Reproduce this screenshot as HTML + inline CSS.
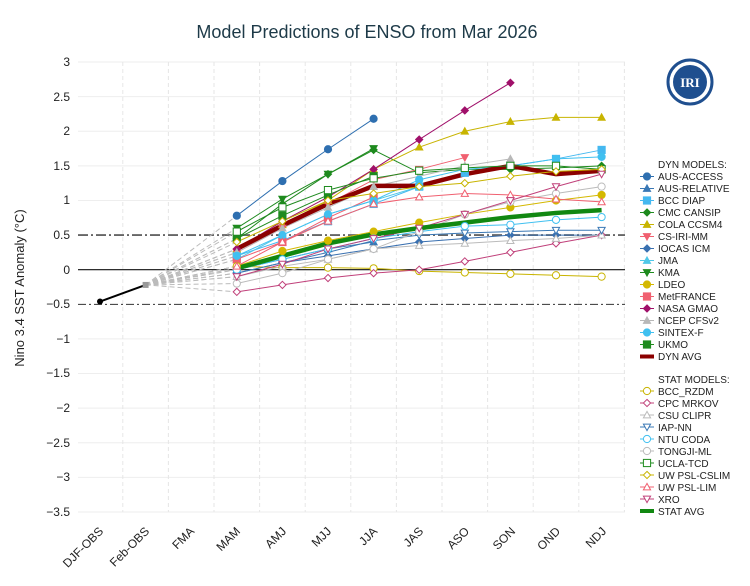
<!DOCTYPE html>
<html><head><meta charset="utf-8"><style>
body{margin:0;background:#fff;font-family:"Liberation Sans",sans-serif}
svg{display:block}
</style></head><body>
<svg id="s" width="750" height="586" xmlns="http://www.w3.org/2000/svg" font-family="Liberation Sans, sans-serif">
<text x="367" y="38" text-anchor="middle" font-size="18" fill="#1d3a48">Model Predictions of ENSO from Mar 2026</text>
<g id="grid"></g>
<g font-size="12" fill="#222" text-anchor="end">
<text x="70" y="66">3</text><text x="70" y="101">2.5</text><text x="70" y="135">2</text><text x="70" y="170">1.5</text><text x="70" y="204">1</text><text x="70" y="239">0.5</text><text x="70" y="274">0</text><text x="70" y="308">−0.5</text><text x="70" y="343">−1</text><text x="70" y="377">−1.5</text><text x="70" y="412">−2</text><text x="70" y="447">−2.5</text><text x="70" y="481">−3</text><text x="70" y="516">−3.5</text>
</g>
<text transform="translate(24,288) rotate(-90)" text-anchor="middle" font-size="13" fill="#222">Nino 3.4 SST Anomaly (°C)</text>
<g font-size="12" fill="#222" text-anchor="end">
<text transform="translate(104,532) rotate(-45)">DJF-OBS</text>
<text transform="translate(150,532) rotate(-45)">Feb-OBS</text>
<text transform="translate(195,532) rotate(-45)">FMA</text>
<text transform="translate(241,532) rotate(-45)">MAM</text>
<text transform="translate(287,532) rotate(-45)">AMJ</text>
<text transform="translate(332,532) rotate(-45)">MJJ</text>
<text transform="translate(378,532) rotate(-45)">JJA</text>
<text transform="translate(424,532) rotate(-45)">JAS</text>
<text transform="translate(470,532) rotate(-45)">ASO</text>
<text transform="translate(516,532) rotate(-45)">SON</text>
<text transform="translate(561,532) rotate(-45)">OND</text>
<text transform="translate(607,532) rotate(-45)">NDJ</text>
</g>
<g id="data"></g>
<circle cx="690" cy="82" r="22" fill="#fff" stroke="#1f4f8f" stroke-width="3"/>
<circle cx="690" cy="82" r="17" fill="#1f4f8f"/>
<text x="690" y="87" text-anchor="middle" font-size="13" font-weight="bold" fill="#fff" font-family="Liberation Serif, serif">IRI</text>
<g id="leg" font-size="10" fill="#222">
<text x="658" y="168">DYN MODELS:</text>
<text x="658" y="180">AUS-ACCESS</text><text x="658" y="192">AUS-RELATIVE</text><text x="658" y="204">BCC DIAP</text><text x="658" y="216">CMC CANSIP</text><text x="658" y="228">COLA CCSM4</text><text x="658" y="240">CS-IRI-MM</text><text x="658" y="252">IOCAS ICM</text><text x="658" y="264">JMA</text><text x="658" y="276">KMA</text><text x="658" y="288">LDEO</text><text x="658" y="300">MetFRANCE</text><text x="658" y="312">NASA GMAO</text><text x="658" y="324">NCEP CFSv2</text><text x="658" y="336">SINTEX-F</text><text x="658" y="348">UKMO</text><text x="658" y="360">DYN AVG</text>
<text x="658" y="383">STAT MODELS:</text>
<text x="658" y="395">BCC_RZDM</text><text x="658" y="407">CPC MRKOV</text><text x="658" y="419">CSU CLIPR</text><text x="658" y="431">IAP-NN</text><text x="658" y="443">NTU CODA</text><text x="658" y="455">TONGJI-ML</text><text x="658" y="467">UCLA-TCD</text><text x="658" y="479">UW PSL-CSLIM</text><text x="658" y="491">UW PSL-LIM</text><text x="658" y="503">XRO</text><text x="658" y="515">STAT AVG</text>
</g>
</svg>
<script>
const NS="http://www.w3.org/2000/svg";
function Y(v){return 269.7-69.23*v}
function X(i){return 100+45.6*i}
function el(p,t,a){const e=document.createElementNS(NS,t);for(const k in a)e.setAttribute(k,a[k]);p.appendChild(e);return e}
const g=document.getElementById('grid'),d=document.getElementById('data'),lg=document.getElementById('leg');
for(let v=-3.5;v<=3.01;v+=0.5){if(Math.abs(v)<0.01||Math.abs(Math.abs(v)-0.5)<0.01)continue;el(g,'line',{x1:78,x2:625,y1:Y(v),y2:Y(v),stroke:'#eee'})}
for(let i=0;i<12;i++){const x=X(i)+22.8;el(g,'line',{x1:x,x2:x,y1:62,y2:512,stroke:'#e6e6e6','stroke-dasharray':'4,3'})}
el(g,'line',{x1:78,x2:625,y1:Y(0),y2:Y(0),stroke:'#111','stroke-width':1.2});
el(g,'line',{x1:78,x2:625,y1:Y(0.5),y2:Y(0.5),stroke:'#666','stroke-width':1.8,'stroke-dasharray':'10,3,2,3'});
el(g,'line',{x1:78,x2:625,y1:Y(-0.5),y2:Y(-0.5),stroke:'#333','stroke-width':1,'stroke-dasharray':'8,3,2,3'});
const M=[
['#2e6fb0','c',1,[.78,1.28,1.74,2.18]],
['#3a78b5','t',1,[0,.15,.3,.4]],
['#44b8f0','s',1,[.2,.42,.7,.95,1.2,1.4,1.5,1.6,1.73]],
['#1e8a1e','d',1,[.45,.95,1.38,1.73,1.4,1.45,1.45,1.47,1.5]],
['#c8b400','t',1,[.3,.65,1.0,1.45,1.77,2.0,2.14,2.2,2.2]],
['#f06070','v',1,[.25,.6,.95,1.3,1.45,1.62]],
['#3a70b0','d',1,[-.05,.1,.2,.3,.4,.45,.5,.5,.5]],
['#50c8e8','t',1,[.15,.5,.8,1.0,1.2]],
['#1e8a1e','v',1,[.6,1.02,1.38,1.75]],
['#d4b800','c',1,[.05,.27,.42,.55,.68,.8,.9,1.0,1.08]],
['#f06070','s',1,[.15,.4,.75,1.05]],
['#a0106a','d',1,[.3,.7,1.05,1.45,1.88,2.3,2.7]],
['#b8b8b8','t',1,[.25,.6,.9,1.2,1.35,1.5,1.6]],
['#40c0f0','c',1,[.2,.5,.8,1.0,1.3,1.45,1.5,1.6,1.63]],
['#1e8a1e','s',1,[.45,.78,1.08,1.35]],
['#8b0000','L',5,[.3,.64,.95,1.21,1.21,1.38,1.5,1.38,1.43]],
['#c8b400','c',0,[.05,.03,.03,.02,-.02,-.04,-.06,-.08,-.1]],
['#c0407a','d',0,[-.32,-.22,-.12,-.05,0,.12,.25,.38,.5]],
['#bbbbbb','t',0,[-.1,.05,.15,.3,.35,.38,.42,.45,.5]],
['#3a78b5','v',0,[-.05,.1,.25,.42,.5,.53,.55,.57,.57]],
['#40c0f0','c',0,[0,.15,.3,.45,.55,.63,.65,.72,.76]],
['#bbbbbb','c',0,[-.2,-.05,.15,.3,.55,.8,.98,1.1,1.2]],
['#1e8a1e','s',0,[.55,.9,1.15,1.32,1.43,1.47,1.5,1.5,1.45]],
['#c8b400','d',0,[.4,.7,1.0,1.1,1.2,1.25,1.35,1.42,1.45]],
['#f06070','t',0,[.05,.4,.7,.95,1.05,1.1,1.08,1.02,.98]],
['#c0407a','v',0,[-.1,.08,.3,.45,.6,.8,1.0,1.2,1.38]],
['#118811','L',5,[.02,.2,.38,.51,.6,.68,.76,.82,.86]]];
function mk(p,t,x,y,c,f){const a={fill:f?c:'#fff',stroke:c,'stroke-width':1};const r=3.6;
if(t=='c')el(p,'circle',Object.assign({cx:x,cy:y,r:r},a));
else if(t=='s')el(p,'rect',Object.assign({x:x-r,y:y-r,width:2*r,height:2*r},a));
else if(t=='d')el(p,'polygon',Object.assign({points:`${x},${y-r} ${x+r},${y} ${x},${y+r} ${x-r},${y}`},a));
else if(t=='t')el(p,'polygon',Object.assign({points:`${x},${y-r} ${x+r},${y+r*.8} ${x-r},${y+r*.8}`},a));
else if(t=='v')el(p,'polygon',Object.assign({points:`${x},${y+r} ${x+r},${y-r*.8} ${x-r},${y-r*.8}`},a));}
M.forEach(m=>el(d,'line',{x1:X(1),y1:Y(-.22),x2:X(3),y2:Y(m[3][0]),stroke:'#bbb','stroke-dasharray':'5,3'}));
el(d,'line',{x1:X(0),y1:Y(-.46),x2:X(1),y2:Y(-.22),stroke:'#000','stroke-width':2});
el(d,'circle',{cx:X(0),cy:Y(-.46),r:3,fill:'#000'});
el(d,'rect',{x:X(1)-3,y:Y(-.22)-3,width:6,height:6,fill:'#999'});
M.forEach(m=>{const pts=m[3].map((v,i)=>X(3+i)+','+Y(v)).join(' ');
el(d,'polyline',{points:pts,fill:'none',stroke:m[0],'stroke-width':m[2]==5?4.5:1});});
M.forEach((m,k)=>{if(m[1]!='L')m[3].forEach((v,i)=>mk(d,m[1],X(3+i),Y(v),m[0],m[2]));
const ly=k<16?176.5+12*k:391+12*(k-16);
if(m[1]=='L')el(lg,'rect',{x:640,y:ly-2,width:14,height:4,fill:m[0]});
else{el(lg,'line',{x1:640,x2:654,y1:ly,y2:ly,stroke:m[0]});mk(lg,m[1],647,ly,m[0],m[2]);}});
</script>
</body></html>
